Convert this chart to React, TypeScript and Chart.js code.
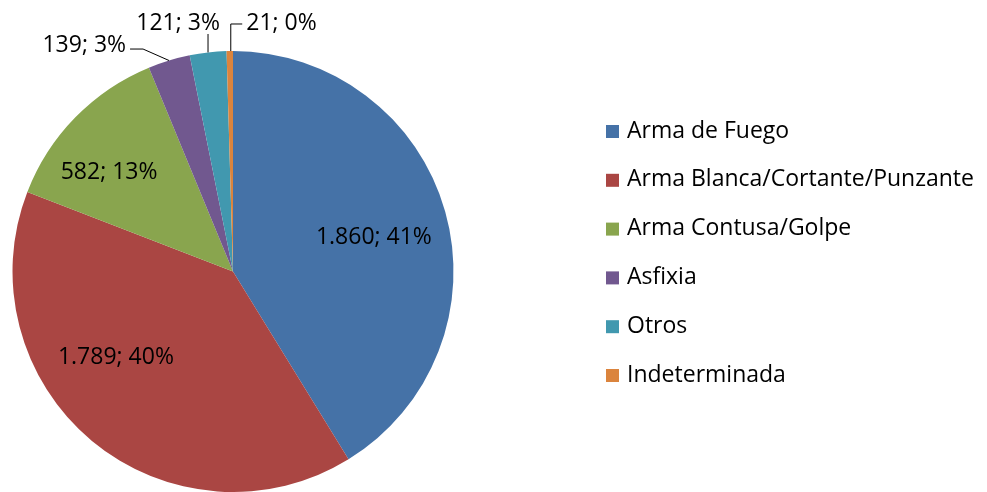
import React, { useEffect, useRef } from "react";
import { Chart, registerables } from "chart.js";

Chart.register(...registerables);

const categories = [
  "Arma de Fuego",
  "Arma Blanca/Cortante/Punzante",
  "Arma Contusa/Golpe",
  "Asfixia",
  "Otros",
  "Indeterminada",
];
const values = [1860, 1789, 582, 139, 121, 21];
const valueLabels = ["1.860", "1.789", "582", "139", "121", "21"];
const colors = ["#4572A7", "#AA4643", "#89A54E", "#71588F", "#4198AF", "#DB843D"];

const FONT = "'Open Sans', sans-serif";
const FONT_SIZE = 23;

// label placement in units of radius relative to pie centre
const labelPlacement = [
  { dx: 0.639, dy: -0.156, align: "center", leader: "none" },
  { dx: -0.531, dy: 0.392, align: "center", leader: "none" },
  { dx: -0.562, dy: -0.451, align: "center", leader: "none" },
  { dx: -0.485, dy: -1.027, align: "right", leader: "left" },
  { dx: -0.249, dy: -1.127, align: "center", leader: "up" },
  { dx: 0.06, dy: -1.127, align: "left", leader: "right" },
];

const labelPlugin = {
  id: "pieLabels",
  afterDatasetsDraw(chart: any) {
    const ctx = chart.ctx;
    const meta = chart.getDatasetMeta(0);
    const total = values.reduce((a, b) => a + b, 0);
    ctx.save();
    ctx.font = `${FONT_SIZE}px ${FONT}`;
    ctx.fillStyle = "#000";
    ctx.textBaseline = "middle";
    meta.data.forEach((arc: any, i: number) => {
      const { x, y, outerRadius, startAngle, endAngle } = arc.getProps(
        ["x", "y", "outerRadius", "startAngle", "endAngle"],
        true
      );
      const p = labelPlacement[i];
      const pct = Math.round((values[i] / total) * 100);
      const text = `${valueLabels[i]}; ${pct}%`;
      const tx = x + p.dx * outerRadius;
      const ty = y + p.dy * outerRadius;
      ctx.textAlign = p.align as CanvasTextAlign;
      ctx.fillText(text, tx, ty);
      if (p.leader !== "none") {
        const mid = (startAngle + endAngle) / 2;
        const ax = x + Math.cos(mid) * outerRadius;
        const ay = y + Math.sin(mid) * outerRadius;
        ctx.beginPath();
        ctx.strokeStyle = "#000";
        ctx.lineWidth = 1;
        if (p.leader === "left") {
          const ex = tx + 4;
          const ey = ty + 4;
          ctx.moveTo(ax, ay);
          ctx.lineTo(ex + 13, ey);
          ctx.lineTo(ex, ey);
        } else if (p.leader === "up") {
          ctx.moveTo(ax, ay);
          ctx.lineTo(ax, ty + 11);
        } else if (p.leader === "right") {
          ctx.moveTo(ax + 1, ay);
          ctx.lineTo(ax + 1, ty + 1);
          ctx.lineTo(tx - 4, ty + 1);
        }
        ctx.stroke();
      }
    });
    ctx.restore();
  },
};

const legendPlugin = {
  id: "sideLegend",
  afterDraw(chart: any) {
    const ctx = chart.ctx;
    ctx.save();
    ctx.font = `${FONT_SIZE}px ${FONT}`;
    ctx.textBaseline = "middle";
    ctx.textAlign = "left";
    const x0 = 606;
    const y0 = 131;
    const step = 48.8;
    categories.forEach((c, i) => {
      const cy = y0 + i * step;
      ctx.fillStyle = colors[i];
      ctx.fillRect(x0, cy - 6, 13, 13);
      ctx.fillStyle = "#000";
      ctx.fillText(c, x0 + 21, cy);
    });
    ctx.restore();
  },
};

export default function App() {
  const ref = useRef<HTMLCanvasElement>(null);
  useEffect(() => {
    if (!ref.current) return;
    const chart = new Chart(ref.current, {
      type: "pie",
      data: {
        labels: categories,
        datasets: [
          {
            data: values,
            backgroundColor: colors,
            borderWidth: 0,
          },
        ],
      },
      options: {
        responsive: false,
        animation: false,
        layout: { padding: { left: 12, right: 533, top: 51, bottom: 0 } },
        plugins: {
          legend: { display: false },
          tooltip: { enabled: false },
        },
      },
      plugins: [labelPlugin, legendPlugin],
    });
    return () => chart.destroy();
  }, []);
  return (
    <div style={{ position: "absolute", left: 0, top: 0, width: 987, height: 492, background: "#fff" }}>
      <canvas ref={ref} width={987} height={492} />
    </div>
  );
}
